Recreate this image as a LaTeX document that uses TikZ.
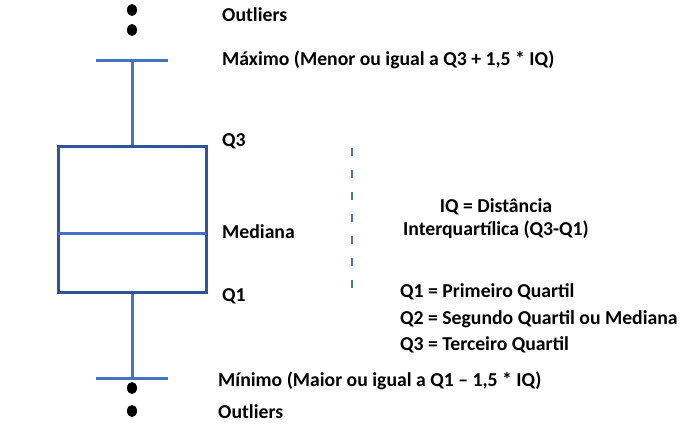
\documentclass[tikz,border=0pt]{standalone}
\usepackage{fontspec}
\setmainfont{Carlito}
\begin{document}
\begin{tikzpicture}[x=1pt,y=-1pt,
  lbl/.style={font=\bfseries\fontsize{19.7}{22}\selectfont, inner sep=0pt, anchor=west},
  boxline/.style={draw=boxblue, line width=3pt},
  whisk/.style={draw=whiskblue, line width=3pt}]
\definecolor{boxblue}{HTML}{2F5597}
\definecolor{whiskblue}{HTML}{4472C4}
\useasboundingbox (0,0) rectangle (688,423);
% box
\node[boxline, minimum width=148pt, minimum height=146pt, inner sep=0pt] (box) at (132,219) {};
\coordinate (medL) at (58,233);
\coordinate (medR) at (206,233);
\draw[whisk] (medL) -- (medR);
% whiskers
\coordinate (capTL) at (96,60);
\coordinate (capTR) at (168,60);
\coordinate (capT) at (132,60);
\coordinate (capBL) at (96,378);
\coordinate (capBR) at (168,378);
\coordinate (capB) at (132,378);
\draw[whisk] (capTL) -- (capTR);
\draw[whisk] (capBL) -- (capBR);
\draw[whisk] (capT) -- (box.north);
\draw[whisk] (box.south) -- (capB);
% outliers
\path (132,10) node[circle, fill=black, minimum size=10pt, inner sep=0pt, yscale=1.2] (o1) {};
\path (132,30) node[circle, fill=black, minimum size=10pt, inner sep=0pt, yscale=1.2] (o2) {};
\path (132,388) node[circle, fill=black, minimum size=10pt, inner sep=0pt, yscale=1.2] (o3) {};
\path (132,411) node[circle, fill=black, minimum size=10pt, inner sep=0pt, yscale=1.2] (o4) {};
% dashed IQ line
\coordinate (iqT) at (352,148);
\coordinate (iqB) at (352,294);
\draw[whiskblue, line width=2.6pt, dash pattern=on 8pt off 14pt] (iqT) -- (iqB);
% labels
\node[lbl] (tOut) at (222,15) {Outliers};
\node[lbl] (tMax) at (222,60) {Máximo (Menor ou igual a Q3 + 1,5 * IQ)};
\node[lbl] (tQ3) at (222,141) {Q3};
\node[lbl] (tMed) at (222,232) {Mediana};
\node[lbl] (tQ1) at (222,296) {Q1};
\node[lbl] (tMin) at (218,381) {Mínimo (Maior ou igual a Q1 – 1,5 * IQ)};
\node[lbl] (bOut) at (218,412) {Outliers};
\node[lbl, anchor=center, align=center] (tIQ) at (496,219) {IQ = Distância\\[1pt]Interquartílica (Q3-Q1)};
\node[lbl] (d1) at (400,292) {Q1 = Primeiro Quartil};
\node[lbl] (d2) at (400,319) {Q2 = Segundo Quartil ou Mediana};
\node[lbl] (d3) at (400,345) {Q3 = Terceiro Quartil};
\end{tikzpicture}
\end{document}
